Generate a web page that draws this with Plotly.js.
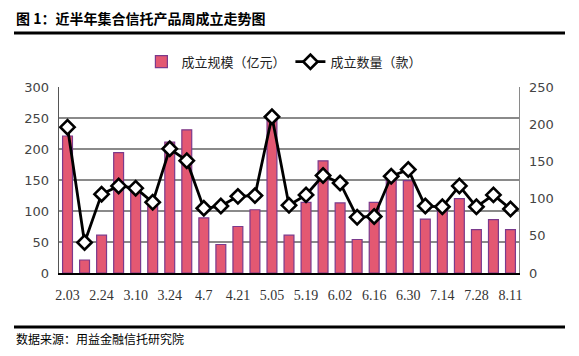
<!DOCTYPE html>
<html><head><meta charset="utf-8">
<script src="https://cdn.plot.ly/plotly-3.0.1.min.js"></script>
<style>html,body{margin:0;padding:0;background:#fff;}#chart{width:579px;height:356px;}</style>
</head><body><div id="chart"></div>
<script>
const categories = ["2.03","2.17","2.24","3.03","3.10","3.17","3.24","3.31","4.7","4.14","4.21","4.28","5.05","5.12","5.19","5.26","6.02","6.09","6.16","6.23","6.30","7.07","7.14","7.21","7.28","8.04","8.11"];
const scale = [221,21,61,194,135,108,211,231,89,46,75,102,250,61,114,181,113,54,114,153,149,87,107,120,70,86,70];
const counts = [196,41,106,117,114,95,167,151,87,90,103,104,210,91,105,131,121,75,76,130,139,90,89,117,89,105,86];
const tickLabels = ["2.03","2.24","3.10","3.24","4.7","4.21","5.05","5.19","6.02","6.16","6.30","7.14","7.28","8.11"];
const barName = "成立规模（亿元）";
const lineName = "成立数量（款）";

const idx = categories.map((c,i)=>i);
const tickIdx = tickLabels.map(t => categories.indexOf(t));

const serif = '"Liberation Serif", "Noto Sans CJK SC", serif';
const cjk = '"Noto Sans CJK SC", sans-serif';

const data = [
  {type:'bar', x:idx, y:scale, name:barName, yaxis:'y',
   marker:{color:'#E35872', line:{color:'#7B3A8C', width:1.2}}},
  {type:'scatter', mode:'lines+markers', x:idx, y:counts, name:lineName, yaxis:'y2',
   line:{color:'#000', width:2.8},
   marker:{symbol:'diamond', size:11, color:'#fff', line:{color:'#000', width:2.6}}}
];

const layout = {
  width:579, height:356,
  margin:{l:59, r:60, t:87, b:83},
  paper_bgcolor:'#fff', plot_bgcolor:'#fff',
  bargap:0.42,
  showlegend:true,
  legend:{orientation:'h', x:0.49, xanchor:'center', y:1.055, yanchor:'bottom',
          font:{family:cjk, size:13, color:'#222'}, itemwidth:30, tracegroupgap:0},
  xaxis:{range:[-0.5,26.5], tickmode:'array', tickvals:tickIdx, ticktext:tickLabels,
         showgrid:false, zeroline:false, showline:true, linecolor:'#000', linewidth:2,
         ticks:'', ticklabelstandoff:8, tickfont:{family:serif, size:14, color:'#333'}, fixedrange:true},
  yaxis:{range:[0,300], dtick:50, showgrid:true, gridcolor:'#8a8a8a', gridwidth:1.3,
         zeroline:false, showline:true, linecolor:'#555', linewidth:1.3, ticks:'',
         tickfont:{family:'"DejaVu Sans", sans-serif', size:13, color:'#444'}, ticklabelstandoff:6},
  yaxis2:{range:[0,250], dtick:50, overlaying:'y', side:'right', showgrid:false, zeroline:false,
          showline:true, linecolor:'#8a8a8a', linewidth:1.3, ticks:'',
          tickfont:{family:'"DejaVu Sans", sans-serif', size:13, color:'#444'}, ticklabelstandoff:6},
  shapes:[
    {type:'line', xref:'paper', yref:'paper', x0:(14-59)/460, x1:(565-59)/460, y0:(356-83-33)/186, y1:(356-83-33)/186, line:{color:'#000', width:3}},
    {type:'line', xref:'paper', yref:'paper', x0:(14-59)/460, x1:(565-59)/460, y0:(356-83-327)/186, y1:(356-83-327)/186, line:{color:'#000', width:3}}
  ],
  annotations:[
    {xref:'paper', yref:'paper', x:(14-59)/460, y:(356-83-18)/186, xanchor:'left', yanchor:'middle',
     text:'<b>图 1：近半年集合信托产品周成立走势图</b>', showarrow:false,
     font:{family:cjk, size:14, color:'#000'}},
    {xref:'paper', yref:'paper', x:(14-59)/460, y:(356-83-338)/186, xanchor:'left', yanchor:'middle',
     text:'数据来源：用益金融信托研究院', showarrow:false,
     font:{family:cjk, size:12, color:'#000'}}
  ]
};

Plotly.newPlot('chart', data, layout, {displayModeBar:false, staticPlot:true});
</script></body></html>
